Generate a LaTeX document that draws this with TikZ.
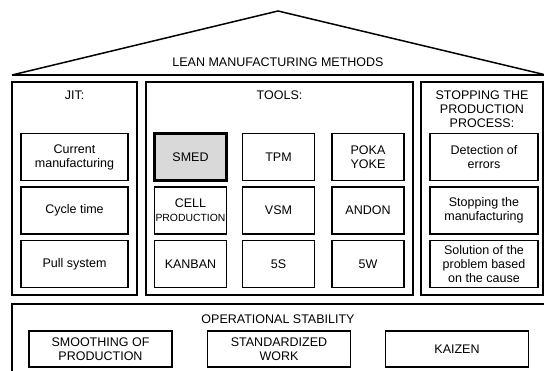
\documentclass[tikz,border=0pt]{standalone}
\usepackage{fontspec}
\setmainfont{Liberation Sans}

\begin{document}
\begin{tikzpicture}[x=1pt, y=-1pt,
    box/.style={draw, line width=1.3pt, align=center, inner sep=1pt,
        font=\fontsize{12.5}{14}\selectfont},
    hdr/.style={align=center, inner sep=0pt, font=\fontsize{12.5}{14}\selectfont},
    cell/.style={box, minimum width=72pt, minimum height=47pt},
    jitcell/.style={cell, minimum width=107pt},
    stopcell/.style={cell, minimum width=108pt},
    basecell/.style={box, minimum width=143pt, minimum height=36pt},
    smedcell/.style={cell, line width=3pt, fill=gray!30}]
    \useasboundingbox (0,0) rectangle (544,371);

    % roof
    \draw[line width=1.5pt] (12,75) -- (278,11) -- (546,75);
    \draw[line width=1.5pt] (12,75) -- (546,75);
    \node[hdr] (title) at (278,62) {LEAN MANUFACTURING METHODS};

    % pillars
    \node[box, minimum width=125pt, minimum height=213pt] (jit) at (74.5,188.5) {};
    \node[box, minimum width=267pt, minimum height=213pt] (tools) at (279.5,188.5) {};
    \node[box, minimum width=122pt, minimum height=213pt] (stop) at (482,188.5) {};
    \node[hdr] (jithead) at (74.5,95) {JIT:};
    \node[hdr] (toolshead) at (279.5,95) {TOOLS:};
    \node[hdr] (stophead) at (482,109) {STOPPING THE\\PRODUCTION\\PROCESS:};

    % JIT
    \node[jitcell] (current) at (74.5,157) {Current\\manufacturing};
    \node[jitcell] (cycle) at (74.5,210.5) {Cycle time};
    \node[jitcell] (pull) at (74.5,264) {Pull system};

    % tools
    \node[smedcell] (smed) at (190.5,157) {SMED};
    \node[cell] (tpm) at (278.5,157) {TPM};
    \node[cell] (poka) at (368,157) {POKA\\YOKE};
    \node[cell] (cellprod) at (190.5,210.5) {CELL\\{\fontsize{10.4}{12}\selectfont PRODUCTION}};
    \node[cell] (vsm) at (278.5,210.5) {VSM};
    \node[cell] (andon) at (368,210.5) {ANDON};
    \node[cell] (kanban) at (190.5,264) {KANBAN};
    \node[cell] (fives) at (278.5,264) {5S};
    \node[cell] (fivew) at (368,264) {5W};

    % stopping the process
    \node[stopcell] (detect) at (484,157) {Detection of\\errors};
    \node[stopcell] (halt) at (484,210.5) {Stopping the\\manufacturing};
    \node[stopcell] (solve) at (484,264) {Solution of the\\problem based\\on the cause};

    % foundation
    \node[box, minimum width=534pt, minimum height=74pt] (base) at (279,341) {};
    \node[hdr] (basehead) at (278,319) {OPERATIONAL STABILITY};
    \node[basecell] (smooth) at (100.5,349) {SMOOTHING OF\\PRODUCTION};
    \node[basecell] (stdwork) at (279,349) {STANDARDIZED\\WORK};
    \node[basecell] (kaizen) at (457,349) {KAIZEN};
\end{tikzpicture}
\end{document}
